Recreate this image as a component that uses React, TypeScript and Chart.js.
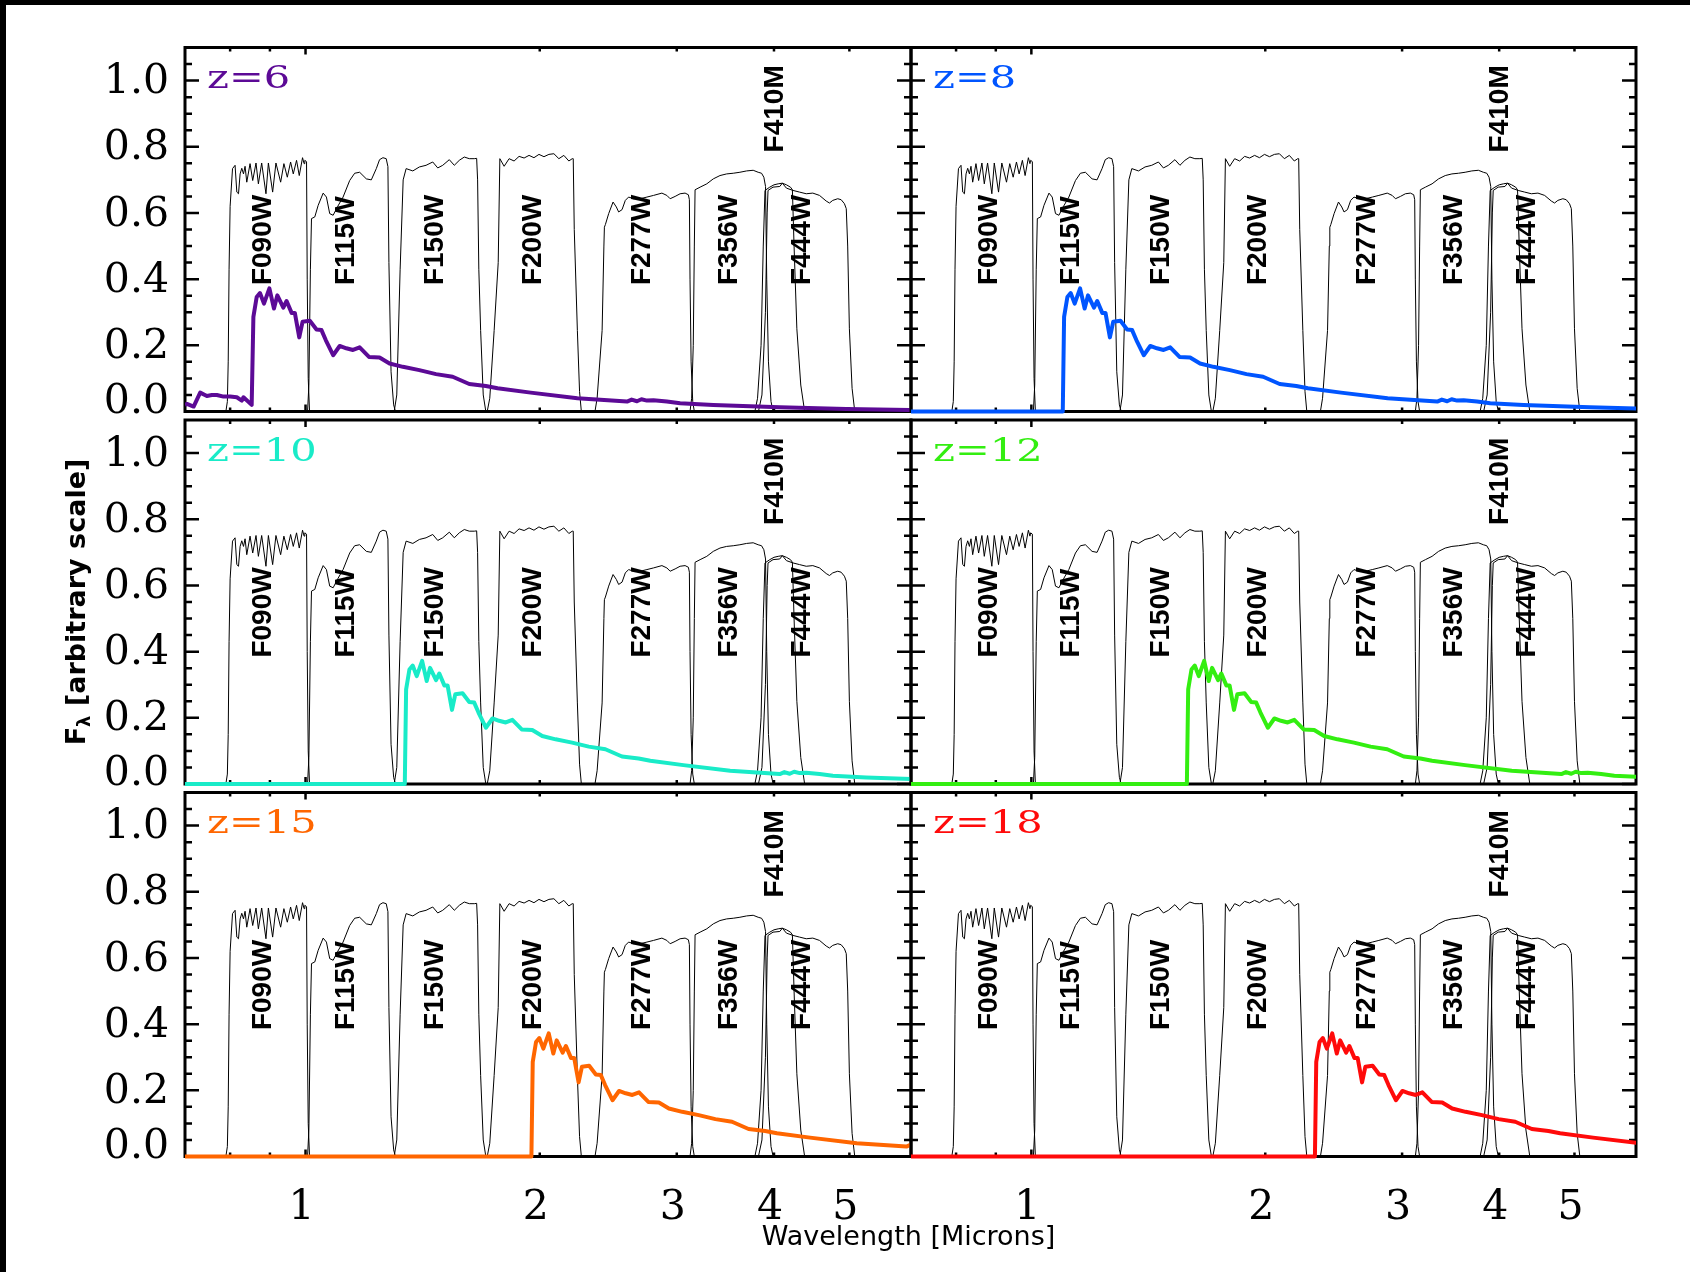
import React, { useEffect, useRef } from "react";
import { Chart, registerables } from "chart.js";

Chart.register(...registerables);

// ---------------- data ----------------
const REDSHIFTS = [6, 8, 10, 12, 15, 18];
const PANEL_LABELS = ["z=6", "z=8", "z=10", "z=12", "z=15", "z=18"];
const SED_COLORS = ["#5c0a96", "#0055ff", "#19ebc8", "#33ee11", "#ff6600", "#ff0a0a"];

const X_MIN = 0.7;
const X_MAX = 6.0;
const Y_MIN = 0;
const Y_MAX = 1.1;
const X_TICK_LABELS = [1, 2, 3, 4, 5];
const X_MAJOR_TICKS = [1];
const X_MINOR_TICKS = [0.8, 0.9, 2, 3, 4, 5];
const Y_MAJOR_TICKS = [0, 0.2, 0.4, 0.6, 0.8, 1.0];
const Y_MINOR_TICKS = [0.05, 0.1, 0.15, 0.25, 0.3, 0.35, 0.45, 0.5, 0.55, 0.65, 0.7, 0.75, 0.85, 0.9, 0.95, 1.05];

// Rest-frame template (microns) read from the z=6 panel, redward of Lyman-alpha
const LYA_BREAK_REST = 0.12195;
const REST_WAVE = [0.12243, 0.12363, 0.12484, 0.12633, 0.12837, 0.13012, 0.13143, 0.13377, 0.13507, 0.13709,
  0.13841, 0.14023, 0.1416, 0.14469, 0.14757, 0.14976, 0.15167, 0.15502, 0.15805, 0.16119, 0.16441, 0.16767,
  0.17237, 0.17784, 0.18317, 0.19056, 0.20009, 0.21019, 0.22081, 0.23191, 0.24361, 0.25217, 0.27814, 0.31936,
  0.3699, 0.375, 0.38097, 0.386, 0.39236, 0.4, 0.41619, 0.43281, 0.47749, 0.58131, 0.70769, 0.8528, 0.858];
const REST_FLUX = [0.286, 0.346, 0.358, 0.326, 0.372, 0.311, 0.351, 0.314, 0.334, 0.298,
  0.298, 0.224, 0.271, 0.274, 0.248, 0.246, 0.216, 0.17, 0.198, 0.191, 0.186, 0.194,
  0.165, 0.163, 0.145, 0.135, 0.125, 0.113, 0.105, 0.083, 0.077, 0.07, 0.057, 0.04,
  0.03, 0.036, 0.031, 0.037, 0.033, 0.034, 0.03, 0.025, 0.02, 0.013, 0.0075, 0.0045, 0.004];
// Transmitted Lyman-alpha forest, z=6 panel only (observed microns)
const Z6_FOREST_WAVE = [0.7, 0.704, 0.7181, 0.7322, 0.7468, 0.7579, 0.7692, 0.7845, 0.8, 0.816, 0.8281, 0.8323, 0.8527];
const Z6_FOREST_FLUX = [0.02, 0.023, 0.015, 0.057, 0.047, 0.05, 0.05, 0.045, 0.045, 0.043, 0.033, 0.043, 0.02];

// Filter throughput curves [wavelength (micron), throughput]
const F090W = [[0.79, 0], [0.7935, 0.03], [0.7955, 0.15], [0.7975, 0.43], [0.8, 0.62], [0.8057, 0.734], [0.8118, 0.744],
  [0.816, 0.663], [0.8201, 0.658], [0.824, 0.718], [0.8281, 0.735], [0.8323, 0.718], [0.8362, 0.741], [0.8404, 0.693],
  [0.8486, 0.749], [0.8553, 0.698], [0.8637, 0.751], [0.8698, 0.688], [0.8783, 0.751], [0.8895, 0.658], [0.8959, 0.751],
  [0.9073, 0.663], [0.9162, 0.751], [0.929, 0.693], [0.938, 0.749], [0.9475, 0.708], [0.9568, 0.754], [0.9644, 0.718],
  [0.9738, 0.759], [0.9816, 0.713], [0.9912, 0.767], [0.9958, 0.749], [0.9979, 0.759], [1.003, 0.755], [1.005, 0.4],
  [1.008, 0.1], [1.012, 0]];
const F115W = [[1.006, 0], [1.01, 0.08], [1.0145, 0.43], [1.0178, 0.583], [1.0278, 0.588], [1.0381, 0.623], [1.0536, 0.66],
  [1.0638, 0.648], [1.0742, 0.598], [1.0851, 0.593], [1.1, 0.62], [1.1175, 0.648], [1.1396, 0.698], [1.1565, 0.72],
  [1.1737, 0.723], [1.1971, 0.703], [1.2149, 0.7], [1.233, 0.734], [1.2449, 0.761], [1.2574, 0.767], [1.2697, 0.764],
  [1.2761, 0.74], [1.2799, 0.45], [1.288, 0.12], [1.298, 0.02], [1.305, 0]];
const F150W = [[1.3, 0], [1.31, 0.05], [1.3231, 0.43], [1.335, 0.7], [1.3468, 0.734], [1.3737, 0.727], [1.4006, 0.739],
  [1.4286, 0.744], [1.4571, 0.754], [1.4789, 0.736], [1.5008, 0.744], [1.5303, 0.761], [1.5531, 0.744], [1.5762, 0.759],
  [1.5997, 0.769], [1.6234, 0.764], [1.6476, 0.764], [1.6593, 0.765], [1.664, 0.7], [1.67, 0.43], [1.679, 0.245],
  [1.692, 0.05], [1.705, 0]];
const F200W = [[1.712, 0], [1.725, 0.04], [1.7475, 0.245], [1.7686, 0.45], [1.7772, 0.764], [1.7999, 0.741], [1.8266, 0.764],
  [1.8537, 0.757], [1.8813, 0.771], [1.9095, 0.766], [1.9376, 0.774], [1.966, 0.767], [1.9953, 0.777], [2.025, 0.77],
  [2.055, 0.777], [2.0855, 0.779], [2.1164, 0.764], [2.1478, 0.774], [2.1798, 0.757], [2.2018, 0.764], [2.2083, 0.764],
  [2.215, 0.55], [2.2355, 0.245], [2.25, 0.06], [2.262, 0]];
const F277W = [[2.355, 0], [2.37, 0.04], [2.4053, 0.245], [2.418, 0.5], [2.4216, 0.557], [2.4288, 0.565], [2.4525, 0.598],
  [2.4845, 0.633], [2.5088, 0.618], [2.5259, 0.603], [2.5514, 0.61], [2.5763, 0.638], [2.6015, 0.648], [2.6401, 0.643],
  [2.6928, 0.643], [2.7465, 0.648], [2.8005, 0.653], [2.8708, 0.66], [2.9133, 0.653], [2.9418, 0.643], [2.9854, 0.65],
  [3.0297, 0.658], [3.0748, 0.66], [3.1049, 0.655], [3.1141, 0.64], [3.12, 0.4], [3.13, 0.15], [3.145, 0.03], [3.16, 0]];
const F356W = [[3.12, 0], [3.135, 0.04], [3.15, 0.2], [3.16, 0.5], [3.167, 0.67], [3.2145, 0.678], [3.2787, 0.688],
  [3.3424, 0.703], [3.4092, 0.713], [3.4772, 0.718], [3.5456, 0.72], [3.6164, 0.723], [3.6886, 0.727], [3.7611, 0.729],
  [3.817, 0.723], [3.8555, 0.72], [3.8818, 0.708], [3.9013, 0.68], [3.915, 0.4], [3.935, 0.15], [3.965, 0.03], [3.99, 0]];
const F410M = [[3.78, 0], [3.81, 0.04], [3.85, 0.2], [3.875, 0.5], [3.895, 0.668], [3.95, 0.678], [4.0, 0.685], [4.05, 0.688],
  [4.1, 0.69], [4.15, 0.685], [4.2, 0.678], [4.224, 0.67], [4.245, 0.5], [4.28, 0.25], [4.33, 0.08], [4.38, 0]];
const F444W = [[3.82, 0], [3.86, 0.05], [3.9, 0.3], [3.92, 0.6], [3.93, 0.668], [3.9884, 0.678], [4.0692, 0.68], [4.1, 0.69],
  [4.1503, 0.675], [4.2321, 0.668], [4.3146, 0.663], [4.4007, 0.658], [4.4872, 0.66], [4.5768, 0.653], [4.6683, 0.636],
  [4.7139, 0.63], [4.76, 0.638], [4.8307, 0.643], [4.8795, 0.64], [4.9271, 0.628], [4.9538, 0.613], [4.975, 0.5],
  [5.0, 0.25], [5.04, 0.07], [5.08, 0]];

const FILTER_NAMES = ["F090W", "F115W", "F150W", "F200W", "F277W", "F356W", "F410M", "F444W"];
const FILTER_CURVES = [F090W, F115W, F150W, F200W, F277W, F356W, F410M, F444W];
const FILTER_LABEL_WAVE = [0.876, 1.119, 1.459, 1.947, 2.69, 3.48, 3.99, 4.32];
const FILTER_LABEL_BASE = [0.382, 0.382, 0.382, 0.382, 0.382, 0.382, 0.783, 0.382];

// ---------------- layout ----------------
const COL_LEFT = [185, 911];
const COL_RIGHT = [911, 1636];
const ROW_TOP = [47.5, 420, 792.5];
const ROW_BOTTOM = [411.5, 784, 1156.5];

function makeSedPoints(z: number) {
  const pts: { x: number; y: number }[] = [];
  if (z === 6) {
    Z6_FOREST_WAVE.forEach((w, i) => pts.push({ x: w, y: Z6_FOREST_FLUX[i] }));
  } else {
    pts.push({ x: X_MIN, y: 0 });
    pts.push({ x: LYA_BREAK_REST * (1 + z), y: 0 });
  }
  REST_WAVE.forEach((w, i) => pts.push({ x: w * (1 + z), y: REST_FLUX[i] }));
  return pts;
}

function decorPlugin(idx: number, row: number, col: number) {
  return {
    id: "decor",
    beforeDatasetsDraw(chart: any) {
      const ctx = chart.ctx;
      const a = chart.chartArea;
      const xs = chart.scales.x;
      const ys = chart.scales.y;
      ctx.save();

      // filter labels
      ctx.fillStyle = "#000";
      ctx.font = 'bold 28px "Liberation Sans", Arial, sans-serif';
      ctx.textAlign = "left";
      ctx.textBaseline = "alphabetic";
      FILTER_NAMES.forEach((name, i) => {
        const px = xs.getPixelForValue(FILTER_LABEL_WAVE[i]);
        const py = ys.getPixelForValue(FILTER_LABEL_BASE[i]);
        ctx.save();
        ctx.translate(px, py);
        ctx.rotate(-Math.PI / 2);
        ctx.fillText(name, 0, 10);
        ctx.restore();
      });

      // frame
      ctx.strokeStyle = "#000";
      ctx.lineWidth = 3;
      ctx.strokeRect(a.left, a.top, a.right - a.left, a.bottom - a.top);

      // ticks
      ctx.lineWidth = 2.5;
      ctx.beginPath();
      const yTick = (v: number, len: number) => {
        const py = ys.getPixelForValue(v);
        ctx.moveTo(a.left, py);
        ctx.lineTo(a.left + len, py);
        ctx.moveTo(a.right, py);
        ctx.lineTo(a.right - len, py);
      };
      const xTick = (v: number, len: number) => {
        const px = xs.getPixelForValue(v);
        ctx.moveTo(px, a.bottom);
        ctx.lineTo(px, a.bottom - len);
        ctx.moveTo(px, a.top);
        ctx.lineTo(px, a.top + len);
      };
      Y_MAJOR_TICKS.forEach((v) => yTick(v, 14));
      Y_MINOR_TICKS.forEach((v) => yTick(v, 7));
      X_MAJOR_TICKS.forEach((v) => xTick(v, 7));
      X_MINOR_TICKS.forEach((v) => xTick(v, 4));
      ctx.stroke();

      // panel label
      ctx.save();
      ctx.fillStyle = SED_COLORS[idx];
      ctx.font = '32px "DejaVu Serif", serif';
      ctx.textAlign = "left";
      ctx.textBaseline = "alphabetic";
      ctx.translate(a.left + 22, a.top + 40.5);
      ctx.scale(1.3, 1);
      ctx.fillText(PANEL_LABELS[idx], 0, 0);
      ctx.restore();

      // y axis title (middle-left panel)
      if (row === 1 && col === 0) {
        ctx.save();
        ctx.fillStyle = "#000";
        const big = 'bold 27px "DejaVu Sans", sans-serif';
        const small = 'bold 18px "DejaVu Sans", sans-serif';
        ctx.font = big;
        const wF = ctx.measureText("F").width;
        const rest = " [arbitrary scale]";
        const wR = ctx.measureText(rest).width;
        ctx.font = small;
        const wL = ctx.measureText("λ").width;
        const total = wF + wL + wR;
        const bx = a.left - 100;
        const cy = (a.top + a.bottom) / 2;
        ctx.translate(bx, cy);
        ctx.rotate(-Math.PI / 2);
        ctx.textAlign = "left";
        ctx.textBaseline = "alphabetic";
        let x0 = -total / 2;
        ctx.font = big;
        ctx.fillText("F", x0, 0);
        x0 += wF;
        ctx.font = small;
        ctx.fillText("λ", x0, 5);
        x0 += wL;
        ctx.font = big;
        ctx.fillText(rest, x0, 0);
        ctx.restore();
      }

      // x axis title (bottom-left canvas extends under the divider)
      if (row === 2 && col === 0) {
        ctx.save();
        ctx.fillStyle = "#000";
        ctx.font = '27px "DejaVu Sans", sans-serif';
        ctx.textAlign = "center";
        ctx.textBaseline = "alphabetic";
        ctx.fillText("Wavelength [Microns]", a.right - 2.5, a.bottom + 88.5);
        ctx.restore();
      }

      ctx.restore();
    },
  };
}

function Panel({ row, col }: { row: number; col: number }) {
  const ref = useRef<HTMLCanvasElement>(null);
  const idx = row * 2 + col;
  const cLeft = col === 0 ? 0 : 898;
  const cRight = col === 0 ? (row === 2 ? 1110 : 924) : 1650;
  const cTop = Math.floor(ROW_TOP[row]) - 10;
  const cBottom = row === 2 ? 1272 : Math.ceil(ROW_BOTTOM[row]) + 10;
  const W = cRight - cLeft;
  const H = cBottom - cTop;
  const showY = col === 0;
  const showX = row === 2;

  useEffect(() => {
    const canvas = ref.current;
    if (!canvas) return;
    const yAxisW = COL_LEFT[col] - cLeft;
    const xAxisH = cBottom - ROW_BOTTOM[row];
    const z = REDSHIFTS[idx];

    const datasets: any[] = [
      {
        label: PANEL_LABELS[idx],
        data: makeSedPoints(z),
        borderColor: SED_COLORS[idx],
        borderWidth: 4,
        pointRadius: 0,
        tension: 0,
        fill: false,
        borderJoinStyle: "round",
        clip: { left: 0, top: 6, right: 0, bottom: 6 },
      },
    ];
    FILTER_CURVES.forEach((curve, i) => {
      datasets.push({
        label: FILTER_NAMES[i],
        data: curve.map((p) => ({ x: p[0], y: p[1] })),
        borderColor: "#000000",
        borderWidth: 1,
        pointRadius: 0,
        tension: 0,
        fill: false,
      });
    });

    const chart = new Chart(canvas, {
      type: "line",
      data: { datasets },
      options: {
        animation: false,
        responsive: false,
        devicePixelRatio: 1,
        events: [],
        layout: {
          autoPadding: false,
          padding: {
            left: showY ? 0 : COL_LEFT[col] - cLeft,
            right: cRight - COL_RIGHT[col],
            top: ROW_TOP[row] - cTop,
            bottom: showX ? 0 : cBottom - ROW_BOTTOM[row],
          },
        },
        plugins: { legend: { display: false }, tooltip: { enabled: false }, title: { display: false } },
        scales: {
          x: {
            type: "logarithmic",
            min: X_MIN,
            max: X_MAX,
            bounds: "data",
            display: showX,
            position: "bottom",
            grid: { display: false, drawTicks: false },
            border: { display: false },
            afterBuildTicks: (s: any) => {
              s.ticks = X_TICK_LABELS.map((v) => ({ value: v }));
            },
            afterFit: (s: any) => {
              s.height = showX ? xAxisH : 0;
              s.paddingLeft = 0;
              s.paddingRight = 0;
              s.paddingTop = 0;
              s.paddingBottom = 0;
            },
            ticks: {
              autoSkip: false,
              maxRotation: 0,
              minRotation: 0,
              padding: 27,
              labelOffset: -4,
              color: "#000",
              font: { family: "DejaVu Serif", size: 41 },
              callback: (v: any) => String(v),
            },
          },
          y: {
            type: "linear",
            min: Y_MIN,
            max: Y_MAX,
            bounds: "data",
            display: showY,
            position: "left",
            grid: { display: false, drawTicks: false },
            border: { display: false },
            afterBuildTicks: (s: any) => {
              s.ticks = Y_MAJOR_TICKS.map((v) => ({ value: v }));
            },
            afterFit: (s: any) => {
              s.width = showY ? yAxisW : 0;
              s.paddingLeft = 0;
              s.paddingRight = 0;
              s.paddingTop = 0;
              s.paddingBottom = 0;
            },
            ticks: {
              padding: 16,
              labelOffset: 2,
              color: "#000",
              font: (c: any) => ({
                family: "DejaVu Serif",
                size: 41,
                lineHeight: c.tick && c.tick.value === 0 ? 0.55 : 1.2,
              }),
              callback: (v: any) => (Number(v) === 0 ? ["0.0", ""] : Number(v).toFixed(1)),
            },
          },
        },
      } as any,
      plugins: [decorPlugin(idx, row, col)],
    });
    return () => chart.destroy();
  }, []);

  return (
    <canvas
      ref={ref}
      width={W}
      height={H}
      style={{ position: "absolute", left: cLeft, top: cTop, width: W, height: H }}
    />
  );
}

export default function App() {
  const panels: React.ReactElement[] = [];
  for (let r = 0; r < 3; r++) {
    for (let c = 0; c < 2; c++) {
      panels.push(<Panel key={`${r}-${c}`} row={r} col={c} />);
    }
  }
  return (
    <div
      style={{
        position: "fixed",
        left: 0,
        top: 0,
        width: 1690,
        height: 1272,
        background: "#ffffff",
        overflow: "hidden",
      }}
    >
      {panels}
      <div style={{ position: "absolute", left: 0, top: 0, width: 1690, height: 5, background: "#000" }} />
      <div style={{ position: "absolute", left: 0, top: 0, width: 6, height: 1272, background: "#000" }} />
    </div>
  );
}
